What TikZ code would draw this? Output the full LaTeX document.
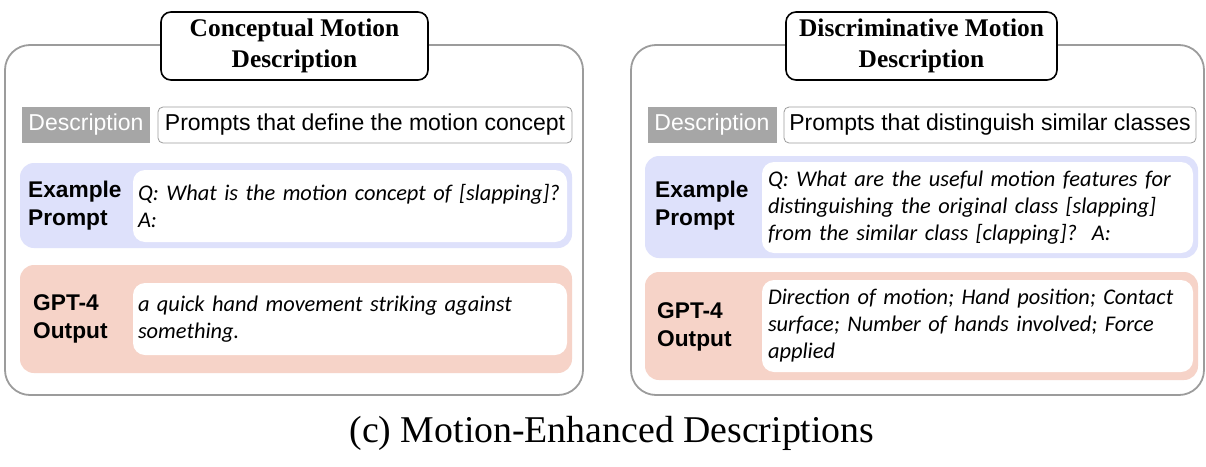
\documentclass[tikz,border=0pt]{standalone}
\usepackage{fontspec}
\setmainfont{Liberation Serif}
\newfontfamily\arialf{Liberation Sans}
\newfontfamily\carlf{Carlito}
\definecolor{outergray}{HTML}{9C9C9C}
\definecolor{descgray}{HTML}{A6A6A6}
\definecolor{panelblue}{HTML}{DEE1FB}
\definecolor{panelpink}{HTML}{F6D3C8}
\begin{document}
\begin{tikzpicture}[x=1pt,y=-1pt,
  outerbox/.style={draw=outergray, line width=1.8pt, rounded corners=25pt, fill=white, inner sep=0pt},
  titlebox/.style={draw=black, line width=1.6pt, rounded corners=10pt, fill=white, inner sep=0pt, align=center,
    font=\bfseries\fontsize{25.4}{31}\selectfont, minimum height=68pt},
  desclabel/.style={fill=descgray, text=white, inner sep=0pt, minimum height=36pt,
    font=\arialf\fontsize{23}{27}\selectfont},
  descbox/.style={draw=outergray, line width=0.8pt, rounded corners=5pt, fill=white, inner sep=0pt, minimum height=36pt,
    font=\arialf\fontsize{23}{27}\selectfont},
  bluepanel/.style={fill=panelblue, rounded corners=14pt, inner sep=0pt},
  pinkpanel/.style={fill=panelpink, rounded corners=14pt, inner sep=0pt},
  whitebox/.style={fill=white, rounded corners=12pt, inner xsep=5pt, inner ysep=0pt, align=left,
    font=\carlf\itshape\fontsize{22.4}{27}\selectfont},
  sidelabel/.style={anchor=west, align=left, inner sep=0pt, font=\arialf\bfseries\fontsize{22.7}{28}\selectfont},
  caption/.style={font=\fontsize{37.8}{40}\selectfont, inner sep=0pt}
]
\useasboundingbox (0,0) rectangle (1206,466);

% ---------- Left panel ----------
\node[outerbox, minimum width=578pt, minimum height=350pt] (Louter) at (294,220) {};
\node[titlebox, minimum width=267pt] (Ltitle) at (294.5,46) {Conceptual Motion\\Description};
\node[desclabel, minimum width=128pt] (Ldesc) at (86,125) {Description};
\node[descbox, minimum width=414pt] (Ldesctext) at (365,125) {Prompts that define the motion concept};
\node[bluepanel, minimum width=552pt, minimum height=85pt] (Lprompt) at (296,205.5) {};
\node[whitebox, minimum width=434pt, minimum height=72pt, text width=424pt] (Lprompttext) at (350,206)
  {Q: What is the motion concept of [slapping]?\\A:};
\node[sidelabel] (Lpromptlabel) at (28,206) {Example\\Prompt};
\node[pinkpanel, minimum width=552pt, minimum height=108pt] (Loutput) at (296,319) {};
\node[whitebox, minimum width=434pt, minimum height=72pt, text width=424pt] (Loutputtext) at (350,319)
  {a quick hand movement striking against\\something.};
\node[sidelabel] (Loutputlabel) at (33,319) {GPT-4\\Output};

% ---------- Right panel ----------
\node[outerbox, minimum width=573pt, minimum height=350pt] (Router) at (917.5,220) {};
\node[titlebox, minimum width=271pt] (Rtitle) at (921.5,46) {Discriminative Motion\\Description};
\node[desclabel, minimum width=129pt] (Rdesc) at (712,125) {Description};
\node[descbox, minimum width=412pt] (Rdesctext) at (990,125) {Prompts that distinguish similar classes};
\node[bluepanel, minimum width=553pt, minimum height=102pt] (Rprompt) at (921.5,207) {};
\node[whitebox, minimum width=431pt, minimum height=91pt, text width=419pt] (Rprompttext) at (977.5,207.5)
  {Q: What are the useful motion features for\\distinguishing the original class [slapping]\\from the similar class [clapping]?\ \ A:};
\node[sidelabel] (Rpromptlabel) at (655,206) {Example\\Prompt};
\node[pinkpanel, minimum width=553pt, minimum height=108pt] (Routput) at (921.5,326) {};
\node[whitebox, minimum width=431pt, minimum height=92pt, text width=419pt] (Routputtext) at (977.5,326)
  {Direction of motion; Hand position; Contact\\surface; Number of hands involved; Force\\applied};
\node[sidelabel] (Routputlabel) at (657,327) {GPT-4\\Output};

% ---------- Caption ----------
\node[caption] (cap) at (612,433) {(c) Motion-Enhanced Descriptions};
\end{tikzpicture}
\end{document}
